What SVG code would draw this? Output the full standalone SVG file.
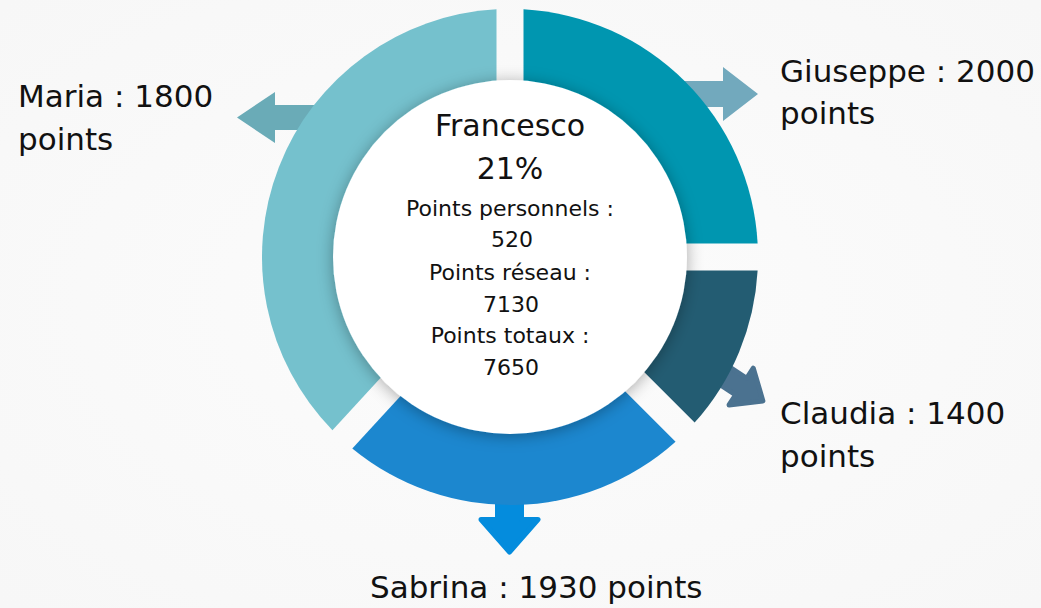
<svg xmlns="http://www.w3.org/2000/svg" width="1041" height="608" viewBox="0 0 1041 608">
  <defs>
    <filter id="shadow" x="-30%" y="-30%" width="160%" height="160%">
      <feDropShadow dx="0" dy="2" stdDeviation="8" flood-color="#000" flood-opacity="0.33"/>
    </filter>
    <radialGradient id="bg" cx="0.5" cy="0.5" r="0.7">
      <stop offset="0" stop-color="#FCFCFC"/>
      <stop offset="1" stop-color="#F7F7F7"/>
    </radialGradient>
  </defs>
  <style>
    .lbl { font-family: "DejaVu Sans", "Noto Sans", sans-serif; font-size: 31px; fill: #111; }
    .ctr { font-family: "DejaVu Sans", "Noto Sans", sans-serif; fill: #111; text-anchor: middle; }
    .small { font-size: 22px; }
  </style>
  <rect width="1041" height="608" fill="url(#bg)"/>

  <g id="connectors">
    <polygon id="arrow-maria" points="330,105 275,105 275,92 237,117.5 275,143 275,130 330,130" fill="#6AABB7"/>
    <polygon id="arrow-giuseppe" points="660,81 723,81 723,67 758,94 723,121 723,107 660,107" fill="#72A9BD"/>
    <polygon id="arrow-claudia" transform="translate(739.5,385.5) rotate(33.4)" points="-70,-10 2,-10 2,-22 28,0 2,22 2,10 -70,10" fill="#4B7290" stroke="#4B7290" stroke-width="5" stroke-linejoin="round"/>
    <polygon id="arrow-sabrina" points="497.5,470 497.5,519.5 481,519.5 509.5,552 538,519.5 521.5,519.5 521.5,470" fill="#048CDD" stroke="#048CDD" stroke-width="5" stroke-linejoin="round"/>
  </g>

  <g id="seg-giuseppe"><path d="M 523.5 243.5 L 523.5 9.37 A 248 248 0 0 1 757.63 243.5 Z" fill="#0096B0"/></g>
  <g id="seg-claudia"><path d="M 542.6 270.5 L 757.63 270.5 A 248 248 0 0 1 694.65 422.55 Z" fill="#235C72"/></g>
  <g id="seg-sabrina"><path d="M 510.4 276.5 L 675.55 441.65 A 248 248 0 0 1 352.32 448.42 Z" fill="#1C87CF"/></g>
  <g id="seg-maria"><path d="M 496.5 251.74 L 332.44 430.14 A 248 248 0 0 1 496.5 9.37 Z" fill="#75C1CD"/></g>

  <g id="center">
    <circle cx="510" cy="257" r="177" fill="#FFFFFF" filter="url(#shadow)"/>
    <text class="ctr" x="510" y="136" font-size="30">Francesco</text>
    <text class="ctr" x="510" y="179" font-size="30">21%</text>
    <text class="ctr small" x="510" y="216">Points personnels :</text>
    <text class="ctr small" x="512" y="247">520</text>
    <text class="ctr small" x="510" y="280">Points réseau :</text>
    <text class="ctr small" x="511" y="312">7130</text>
    <text class="ctr small" x="510" y="343">Points totaux :</text>
    <text class="ctr small" x="511" y="375">7650</text>
  </g>

  <g id="label-maria">
    <text class="lbl" x="18" y="107">Maria : 1800</text>
    <text class="lbl" x="18" y="150">points</text>
  </g>
  <g id="label-giuseppe">
    <text class="lbl" x="780" y="82">Giuseppe : 2000</text>
    <text class="lbl" x="780" y="124">points</text>
  </g>
  <g id="label-claudia">
    <text class="lbl" x="780" y="424">Claudia : 1400</text>
    <text class="lbl" x="780" y="467">points</text>
  </g>
  <g id="label-sabrina">
    <text class="lbl" x="370" y="598">Sabrina : 1930 points</text>
  </g>
</svg>
